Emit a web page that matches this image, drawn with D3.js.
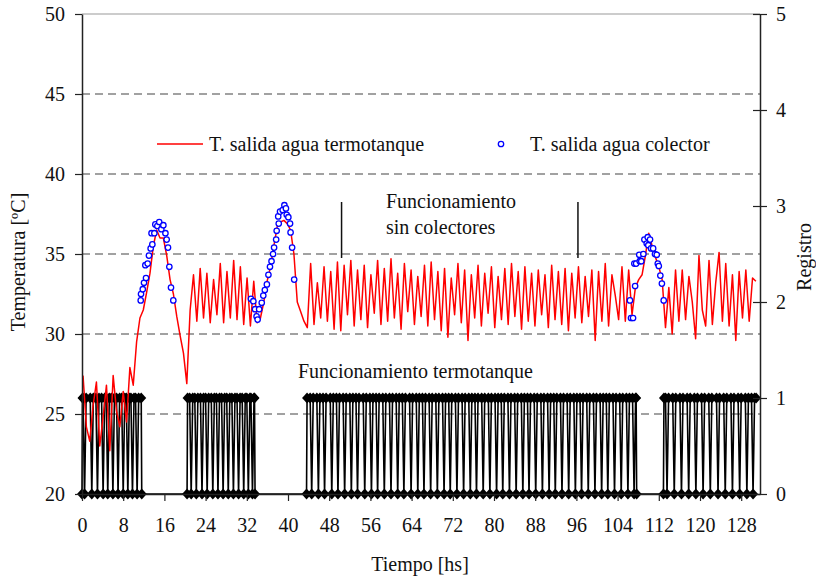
<!DOCTYPE html>
<html>
<head>
<meta charset="utf-8">
<script src="https://cdn.jsdelivr.net/npm/d3@7"></script>
<style>
  body { margin: 0; background: #fff; }
  text { font-family: "Liberation Serif", "Times New Roman", serif; fill: #111; }
</style>
</head>
<body>
<div id="chart-area"></div>
<script>
// T. salida agua termotanque, one value every 0.65 h starting at 0.2 h
var termoStart = 0.2;
var termoStep = 0.65;
var termotanque = [
  27.4, 24.2, 23.3, 25.5, 27.0, 23.0, 24.8, 26.8, 22.7, 27.4,
  25.2, 24.2, 26.4, 24.5, 27.9, 26.8, 29.5, 31.0, 31.5, 32.6,
  33.8, 35.5, 36.5, 36.0, 36.0, 34.9, 33.4, 32.5, 31.1, 29.9,
  28.8, 26.9, 31.5, 33.7, 30.8, 34.1, 31.0, 33.8, 30.7, 33.4,
  31.2, 34.4, 30.7, 33.9, 31.0, 34.6, 30.9, 34.2, 30.6, 33.5,
  30.5, 33.3, 30.7, 31.0, 32.0, 33.3, 34.2, 35.5, 36.7, 37.0,
  37.1, 36.9, 36.5, 35.0, 32.0, 31.4, 30.8, 30.4, 34.4, 30.6,
  33.2, 31.0, 34.2, 30.8, 33.9, 30.3, 34.5, 30.2, 34.3, 31.2,
  34.6, 30.5, 34.0, 30.9, 34.3, 30.4, 33.7, 31.3, 34.6, 30.6,
  34.1, 30.8, 34.7, 31.0, 33.8, 30.3, 34.4, 31.4, 34.0, 30.6,
  33.6, 31.1, 34.3, 30.5, 34.5, 30.9, 33.9, 30.2, 34.1, 29.8,
  33.5, 31.2, 34.4, 30.7, 34.0, 29.6, 33.7, 31.0, 34.3, 30.5,
  33.8, 31.3, 34.2, 30.4, 33.6, 30.9, 34.1, 30.6, 34.4, 31.1,
  33.9, 30.3, 34.2, 30.8, 33.8, 30.5, 34.0, 31.2, 33.7, 30.4,
  34.3, 30.9, 33.9, 30.6, 34.1, 30.2, 33.8, 31.0, 34.2, 30.7,
  33.6, 31.1, 34.0, 29.6, 33.9, 30.8, 34.4, 30.5, 33.7, 32.4,
  30.9, 34.2, 30.8, 34.0, 31.2, 32.9, 33.4, 33.7, 34.9, 36.3,
  35.5, 34.8, 34.2, 33.4, 30.4, 32.9, 30.0, 34.0, 30.8, 34.0,
  30.9, 33.6, 32.0, 29.7, 34.9, 31.5, 30.5, 34.6, 30.6, 33.2,
  35.1, 30.8, 34.4, 30.5, 33.7, 29.6, 33.9, 31.0, 34.0, 30.8,
  33.5, 33.3
];

// T. salida agua colector: [hs, ºC]
var colector = [
  [11.4, 32.1], [11.46, 32.5], [11.8, 32.8], [12.04, 33.2], [12.43, 33.5], [12.3, 34.3],
  [12.75, 34.4], [13.0, 34.9], [13.33, 35.35], [13.66, 35.6], [13.5, 36.3], [14.05, 36.3],
  [14.24, 36.85], [14.63, 36.75], [15.0, 37.0], [15.4, 36.55], [15.8, 36.8], [16.2, 36.3],
  [16.44, 35.9], [16.7, 35.4], [16.96, 34.2], [17.28, 32.9], [17.73, 32.1],
  [32.8, 32.2], [33.27, 32.05], [33.6, 31.55], [33.9, 31.1], [34.1, 30.9], [34.4, 31.55],
  [34.9, 31.95], [35.2, 32.4], [35.5, 32.75], [35.9, 33.1], [36.2, 33.7], [36.5, 34.2],
  [36.8, 34.55], [37.1, 35.0], [37.3, 35.4], [37.7, 35.9], [37.8, 36.45], [38.2, 36.9],
  [38.1, 37.35], [38.45, 37.65], [38.97, 37.75], [39.3, 38.05], [39.6, 37.85], [39.75, 37.45],
  [40.07, 37.3], [40.4, 36.9], [40.5, 36.35], [40.8, 35.4], [41.2, 33.4],
  [106.4, 32.1], [106.6, 31.0], [107.0, 31.0], [107.4, 33.0], [107.25, 34.4], [107.6, 34.4],
  [108.2, 34.95], [108.3, 34.55], [108.6, 34.55], [109.0, 35.0], [109.2, 35.9], [109.65, 35.65],
  [109.85, 36.05], [110.3, 35.9], [109.96, 35.55], [110.5, 35.35], [110.9, 35.35], [111.26, 35.0],
  [111.6, 34.95], [111.8, 34.4], [112.0, 34.25], [112.3, 33.65], [112.6, 33.15], [112.95, 32.1]
];

// Registro (funcionamiento termotanque): active spans [start, end, level at end] and dips to 0
var regSpans = [[0, 11.6, 0], [20.4, 33.6, 0], [43.6, 107.7, 0], [112.9, 131.0, 1]];
var regDips = [
  0.5, 1.9, 3.0, 4.1, 5.0, 6.0, 7.0, 8.0, 8.9, 9.8, 10.7,
  21.2, 22.2, 23.3, 24.3, 25.4, 26.4, 27.4, 28.4, 29.4, 30.4, 31.4, 32.3, 33.1,
  44.6, 45.9, 47.1, 48.5, 49.7, 51.0, 52.3, 53.5, 54.9, 56.2, 57.4, 58.7, 60.0,
  61.3, 62.5, 63.9, 65.2, 66.4, 67.7, 69.0, 70.3, 71.5, 72.8, 74.1, 75.4, 76.6,
  77.9, 79.2, 80.5, 81.7, 83.0, 84.3, 85.6, 86.8, 88.1, 89.4, 90.7, 91.9, 93.2,
  94.5, 95.8, 97.0, 98.3, 99.6, 100.9, 102.1, 103.4, 104.7, 106.0, 107.2,
  113.6, 115.0, 116.4, 117.8, 119.2, 120.6, 122.0, 123.5, 124.9, 126.3, 127.7, 129.1, 130.3
];

var xTicks = [0, 8, 16, 24, 32, 40, 48, 56, 64, 72, 80, 88, 96, 104, 112, 120, 128];
var yTicks = [20, 25, 30, 35, 40, 45, 50];
var y2Ticks = [0, 1, 2, 3, 4, 5];
var gridValues = [25, 30, 35, 40, 45];

var W = 816, H = 578;
var plot = {left: 82, right: 760, top: 14, bottom: 494};

var svg = d3.select("#chart-area")
  .append("svg")
  .attr("width", W)
  .attr("height", H)
  .style("font-size", "20px");

var x = d3.scaleLinear().domain([0, 131.65]).range([plot.left, plot.right]);
var y = d3.scaleLinear().domain([20, 50]).range([plot.bottom, plot.top]);
var y2 = d3.scaleLinear().domain([0, 5]).range([plot.bottom, plot.top]);

// dashed grid + top border
svg.append("g").selectAll("line")
  .data(gridValues)
  .enter().append("line")
  .attr("x1", plot.left).attr("x2", plot.right)
  .attr("y1", d => y(d)).attr("y2", d => y(d))
  .attr("stroke", "#444")
  .attr("stroke-width", 1.2)
  .attr("stroke-dasharray", "8,5");

svg.append("line")
  .attr("x1", plot.left).attr("x2", plot.right)
  .attr("y1", y(50)).attr("y2", y(50))
  .attr("stroke", "#999")
  .attr("stroke-width", 1.2);

// registro series
var regPts = [];
regSpans.forEach(function(s) {
  regPts.push([s[0], 0], [s[0] + 0.1, 1]);
  regDips.filter(d => d > s[0] && d < s[1]).forEach(function(d) {
    regPts.push([d - 0.3, 1], [d, 0], [d + 0.3, 1]);
  });
  regPts.push([s[1] - 0.1, 1]);
  if (s[2] == 0) regPts.push([s[1], 0]);
});

var regLine = d3.line().x(d => x(d[0])).y(d => y2(d[1]));
svg.append("path")
  .datum(regPts)
  .attr("d", regLine)
  .attr("fill", "none")
  .attr("stroke", "#000")
  .attr("stroke-width", 1.6);

svg.append("g").selectAll("path")
  .data(regPts)
  .enter().append("path")
  .attr("transform", d => "translate(" + x(d[0]) + "," + y2(d[1]) + ")")
  .attr("d", "M0,-5.5L5,0L0,5.5L-5,0Z")
  .attr("fill", "#000");

// termotanque line
var termoLine = d3.line()
  .x((d, i) => x(termoStart + i * termoStep))
  .y(d => y(d));
svg.append("path")
  .datum(termotanque)
  .attr("d", termoLine)
  .attr("fill", "none")
  .attr("stroke", "#ff0000")
  .attr("stroke-width", 1.5)
  .attr("stroke-linejoin", "round");

// colector circles
svg.append("g").selectAll("circle")
  .data(colector)
  .enter().append("circle")
  .attr("cx", d => x(d[0]))
  .attr("cy", d => y(d[1]))
  .attr("r", 2.7)
  .attr("fill", "#fff")
  .attr("stroke", "#0000ff")
  .attr("stroke-width", 1.3);

// axes
var xAxis = svg.append("g")
  .attr("transform", "translate(0," + plot.bottom + ")")
  .call(d3.axisBottom(x).tickValues(xTicks).tickSize(7).tickSizeOuter(0).tickPadding(17));

var yAxis = svg.append("g")
  .attr("transform", "translate(" + plot.left + ",0)")
  .call(d3.axisLeft(y).tickValues(yTicks).tickSize(7).tickSizeOuter(0).tickPadding(10));

var y2Axis = svg.append("g")
  .attr("transform", "translate(" + plot.right + ",0)")
  .call(d3.axisRight(y2).tickValues(y2Ticks).tickFormat(d3.format("d"))
    .tickSize(7).tickSizeOuter(0).tickPadding(9));
y2Axis.selectAll(".tick line").attr("x1", -7);

[xAxis, yAxis, y2Axis].forEach(function(a) {
  a.selectAll(".domain").attr("stroke", "#222").attr("stroke-width", 1.5);
  a.selectAll(".tick line").attr("stroke", "#222").attr("stroke-width", 1.2);
  a.selectAll(".tick text")
    .attr("font-family", "Liberation Serif, serif")
    .attr("font-size", "20px")
    .attr("fill", "#111");
});

// axis titles
svg.append("text")
  .attr("transform", "translate(25,262) rotate(-90)")
  .attr("text-anchor", "middle")
  .text("Temperatura [ºC]");

svg.append("text")
  .attr("transform", "translate(811,257) rotate(-90)")
  .attr("text-anchor", "middle")
  .text("Registro");

svg.append("text")
  .attr("x", 420)
  .attr("y", 571)
  .attr("text-anchor", "middle")
  .text("Tiempo [hs]");

// legend
svg.append("line")
  .attr("x1", 157).attr("x2", 203)
  .attr("y1", 144).attr("y2", 144)
  .attr("stroke", "#ff0000")
  .attr("stroke-width", 1.5);
svg.append("text").attr("x", 209).attr("y", 150.5).text("T. salida agua termotanque");

svg.append("circle")
  .attr("cx", 501).attr("cy", 144).attr("r", 2.7)
  .attr("fill", "#fff").attr("stroke", "#0000ff").attr("stroke-width", 1.3);
svg.append("text").attr("x", 530).attr("y", 150.5).text("T. salida agua colector");

// annotations
svg.append("text").attr("x", 386).attr("y", 208).text("Funcionamiento");
svg.append("text").attr("x", 386).attr("y", 234).text("sin colectores");
[50.4, 96.3].forEach(function(t) {
  svg.append("line")
    .attr("x1", x(t)).attr("x2", x(t))
    .attr("y1", y(38.25)).attr("y2", y(34.75))
    .attr("stroke", "#111")
    .attr("stroke-width", 1.5);
});
svg.append("text").attr("x", 298).attr("y", 378).text("Funcionamiento termotanque");
</script>
</body>
</html>
